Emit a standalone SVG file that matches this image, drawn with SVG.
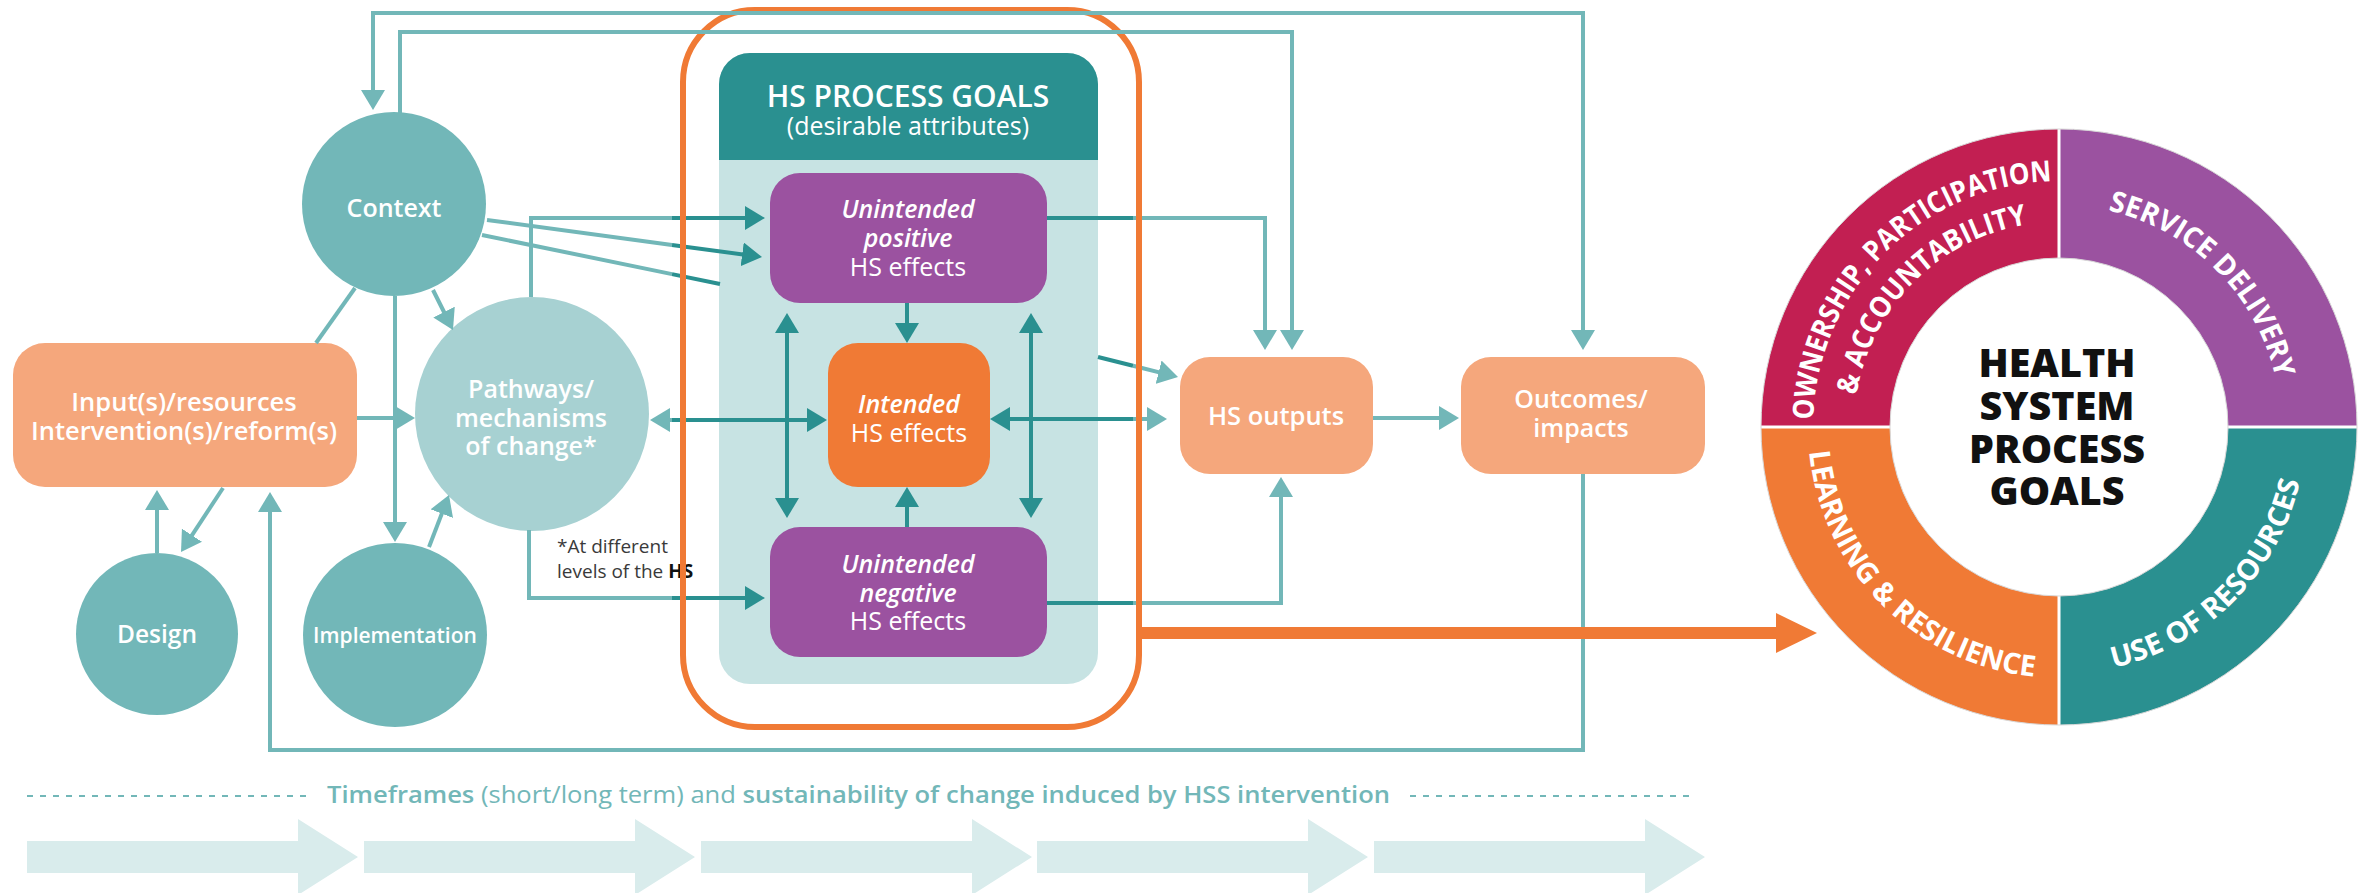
<svg xmlns="http://www.w3.org/2000/svg" width="2369" height="893" viewBox="0 0 2369 893">
<style>
.lbl{font-family:"Open Sans","Noto Sans",sans-serif;fill:#fff;text-anchor:middle;font-weight:600}
.reg{font-weight:400}
.it{font-style:italic}
.ln{fill:none;stroke-width:4}
.lt{stroke:#72b7b8}
.dk{stroke:#2a9090}
.ring{font-family:"Open Sans","Noto Sans",sans-serif;fill:#fff;font-weight:700;font-size:29px}
.ctr{font-family:"Open Sans","Noto Sans",sans-serif;fill:#111;font-weight:800;font-size:39.5px;text-anchor:middle}
.tarrow{fill:#d9ecec}
</style>
<defs>
<marker id="al" markerUnits="userSpaceOnUse" markerWidth="20" markerHeight="24" viewBox="0 0 20 24" refX="10" refY="12" orient="auto-start-reverse"><path d="M0,0 L20,12 L0,24 z" fill="#72b7b8"/></marker>
<marker id="ad" markerUnits="userSpaceOnUse" markerWidth="20" markerHeight="24" viewBox="0 0 20 24" refX="10" refY="12" orient="auto-start-reverse"><path d="M0,0 L20,12 L0,24 z" fill="#2a9090"/></marker>
<path id="p-tl-out" d="M1813,427 A246,246 0 0 1 2059,181"/>
<path id="p-tl-in" d="M1854,427 A205,205 0 0 1 2059,222"/>
<path id="p-tr" d="M2059,205 A222,222 0 0 1 2281,427"/>
<path id="p-br" d="M2059,674 A247,247 0 0 0 2306,427"/>
<path id="p-bl" d="M1808,427 A251,251 0 0 0 2059,678"/>
</defs>
<rect width="2369" height="893" fill="#fff"/>

<g id="timeframes">
<path class="tarrow" d="M27,841 H298 V819 L358,857 L298,895 V873 H27 Z"/>
<path class="tarrow" d="M364,841 H635 V819 L695,857 L635,895 V873 H364 Z"/>
<path class="tarrow" d="M701,841 H972 V819 L1032,857 L972,895 V873 H701 Z"/>
<path class="tarrow" d="M1037,841 H1308 V819 L1368,857 L1308,895 V873 H1037 Z"/>
<path class="tarrow" d="M1374,841 H1645 V819 L1705,857 L1645,895 V873 H1374 Z"/>
<line x1="27" y1="796" x2="306" y2="796" stroke="#72b7b8" stroke-width="2" stroke-dasharray="6 7"/>
<line x1="1410" y1="796" x2="1690" y2="796" stroke="#72b7b8" stroke-width="2" stroke-dasharray="6 7"/>
<text x="327" y="803" font-family="Open Sans, Noto Sans, sans-serif" font-size="23.5" fill="#72b7b8" textLength="1063" lengthAdjust="spacingAndGlyphs"><tspan font-weight="600">Timeframes</tspan> (short/long term) and <tspan font-weight="600">sustainability of change induced by HSS intervention</tspan></text>
</g>

<g id="note">
<text font-family="Open Sans, Noto Sans, sans-serif" font-size="19" fill="#3a3a3a"><tspan x="557" y="553">*At different</tspan><tspan x="557" y="578">levels of the <tspan font-weight="700" fill="#111">HS</tspan></tspan></text>
</g>

<g id="context">
<circle cx="394" cy="204" r="92" fill="#72b7b8"/>
<text class="lbl" x="394" y="217" font-size="25">Context</text>
</g>
<g id="input">
<rect x="13" y="343" width="344" height="144" rx="32" fill="#f5a77c"/>
<text class="lbl" font-size="25.5"><tspan x="184" y="411">Input(s)/resources</tspan><tspan x="184" y="440">Intervention(s)/reform(s)</tspan></text>
</g>
<g id="design">
<circle cx="157" cy="634" r="81" fill="#72b7b8"/>
<text class="lbl" x="157" y="643" font-size="24.5">Design</text>
</g>
<g id="implementation">
<circle cx="395" cy="635" r="92" fill="#72b7b8"/>
<text class="lbl" x="395" y="643" font-size="21">Implementation</text>
</g>
<g id="pathways">
<circle cx="532" cy="414" r="117" fill="#a7d1d2"/>
<text class="lbl" font-size="25"><tspan x="531" y="398">Pathways/</tspan><tspan x="531" y="427">mechanisms</tspan><tspan x="531" y="455">of change*</tspan></text>
</g>

<g id="process-goals">
<rect x="719" y="53" width="379" height="631" rx="31" fill="#c7e3e3"/>
<path d="M719,160 V84 A31,31 0 0 1 750,53 H1067 A31,31 0 0 1 1098,84 V160 Z" fill="#2a9090"/>
<text class="lbl" x="908" y="107" font-size="30" font-weight="700">HS PROCESS GOALS</text>
<text class="lbl reg" x="908" y="135" font-size="25">(desirable attributes)</text>
</g>
<g id="unintended-positive">
<rect x="770" y="173" width="277" height="130" rx="30" fill="#9b52a0"/>
<text class="lbl" font-size="25"><tspan class="it" x="908" y="218">Unintended</tspan><tspan class="it" x="908" y="247">positive</tspan><tspan class="reg" x="908" y="276">HS effects</tspan></text>
</g>
<g id="intended">
<rect x="828" y="343" width="162" height="144" rx="30" fill="#f07a35"/>
<text class="lbl" font-size="25"><tspan class="it" x="909" y="413">Intended</tspan><tspan class="reg" x="909" y="442">HS effects</tspan></text>
</g>
<g id="unintended-negative">
<rect x="770" y="527" width="277" height="130" rx="30" fill="#9b52a0"/>
<text class="lbl" font-size="25"><tspan class="it" x="908" y="573">Unintended</tspan><tspan class="it" x="908" y="602">negative</tspan><tspan class="reg" x="908" y="630">HS effects</tspan></text>
</g>
<g id="hs-outputs">
<rect x="1180" y="357" width="193" height="117" rx="30" fill="#f5a77c"/>
<text class="lbl" x="1276" y="425" font-size="25.5">HS outputs</text>
</g>
<g id="outcomes">
<rect x="1461" y="357" width="244" height="117" rx="30" fill="#f5a77c"/>
<text class="lbl" font-size="25"><tspan x="1581" y="408">Outcomes/</tspan><tspan x="1581" y="437">impacts</tspan></text>
</g>

<g id="connectors">
<g class="ln lt">
<path d="M355,288 L316,343"/>
<path d="M395,296 V532" marker-end="url(#al)"/>
<path d="M433,290 L448.5,321" marker-end="url(#al)"/>
<path d="M357,418 H405" marker-end="url(#al)"/>
<path d="M157,553 V500" marker-end="url(#al)"/>
<path d="M223,488 L186.5,543.6" marker-end="url(#al)"/>
<path d="M429,547 L445.4,504.3" marker-end="url(#al)"/>
<path d="M660,420 H672" marker-start="url(#al)"/>
<path d="M531,297 V218 H672"/>
<path d="M487,220 L672,244.9"/>
<path d="M482,235 L672,274.1"/>
<path d="M529,530 V598 H672"/>
<path d="M1133,218 H1265 V340" marker-end="url(#al)"/>
<path d="M1133,603 H1281 V487" marker-end="url(#al)"/>
<path d="M1133,419 H1157" marker-end="url(#al)"/>
<path d="M1133,365.75 L1168.3,374.6" marker-end="url(#al)"/>
<path d="M1373,418 H1449" marker-end="url(#al)"/>
<path d="M1583,474 V750 H270 V502" marker-end="url(#al)"/>
</g>
<g class="ln dk">
<path d="M672,218 H755" marker-end="url(#ad)"/>
<path d="M672,244.9 L752.1,255.7" marker-end="url(#ad)"/>
<path d="M672,274.1 L720,284"/>
<path d="M672,420 H817" marker-end="url(#ad)"/>
<path d="M672,598 H755" marker-end="url(#ad)"/>
<path d="M907,303 V333" marker-end="url(#ad)"/>
<path d="M907,527 V497" marker-end="url(#ad)"/>
<path d="M787,323 V508" marker-start="url(#ad)" marker-end="url(#ad)"/>
<path d="M1031,323 V508" marker-start="url(#ad)" marker-end="url(#ad)"/>
<path d="M1047,218 H1133"/>
<path d="M1047,603 H1133"/>
<path d="M1000,419 H1133" marker-start="url(#ad)"/>
<path d="M1098,357 L1133,365.75"/>
</g>
</g>

<g id="process-frame">
<rect x="683" y="10" width="456" height="717" rx="72" fill="none" stroke="#f07a35" stroke-width="6"/>
</g>

<g id="connectors-over">
<g class="ln lt">
<path d="M373,100 V13 H1583 V340" marker-start="url(#al)" marker-end="url(#al)"/>
<path d="M400,114 V32 H1292 V340" marker-end="url(#al)"/>
</g>
<path d="M1139,633 H1780" stroke="#f07a35" stroke-width="12" fill="none"/>
<path d="M1776,613 L1817,633 L1776,653 Z" fill="#f07a35"/>
</g>

<g id="goals-wheel">
<path d="M2059,427 L1761,427 A298,298 0 0 1 2059,129 Z" fill="#c21f52"/>
<path d="M2059,427 L2059,129 A298,298 0 0 1 2357,427 Z" fill="#9b52a0"/>
<path d="M2059,427 L2357,427 A298,298 0 0 1 2059,725 Z" fill="#2a9090"/>
<path d="M2059,427 L2059,725 A298,298 0 0 1 1761,427 Z" fill="#f07a35"/>
<path d="M1758,427 H2360 M2059,126 V728" stroke="#fff" stroke-width="3"/>
<circle cx="2059" cy="427" r="298" fill="none" stroke="#d8d8d8" stroke-width="1"/>
<circle cx="2059" cy="427" r="169" fill="#fff" stroke="#d8d8d8" stroke-width="1"/>
<text class="ring"><textPath href="#p-tl-out" startOffset="50%" text-anchor="middle" textLength="372" lengthAdjust="spacingAndGlyphs">OWNERSHIP, PARTICIPATION</textPath></text>
<text class="ring"><textPath href="#p-tl-in" startOffset="50%" text-anchor="middle" textLength="258" lengthAdjust="spacingAndGlyphs">&amp; ACCOUNTABILITY</textPath></text>
<text class="ring"><textPath href="#p-tr" startOffset="50%" text-anchor="middle" textLength="250" lengthAdjust="spacingAndGlyphs">SERVICE DELIVERY</textPath></text>
<text class="ring"><textPath href="#p-br" startOffset="50%" text-anchor="middle" textLength="278" lengthAdjust="spacingAndGlyphs">USE OF RESOURCES</textPath></text>
<text class="ring"><textPath href="#p-bl" startOffset="50%" text-anchor="middle" textLength="345" lengthAdjust="spacingAndGlyphs">LEARNING &amp; RESILIENCE</textPath></text>
<text class="ctr"><tspan x="2057" y="377">HEALTH</tspan><tspan x="2057" y="420">SYSTEM</tspan><tspan x="2057" y="463">PROCESS</tspan><tspan x="2057" y="505">GOALS</tspan></text>
</g>
</svg>
